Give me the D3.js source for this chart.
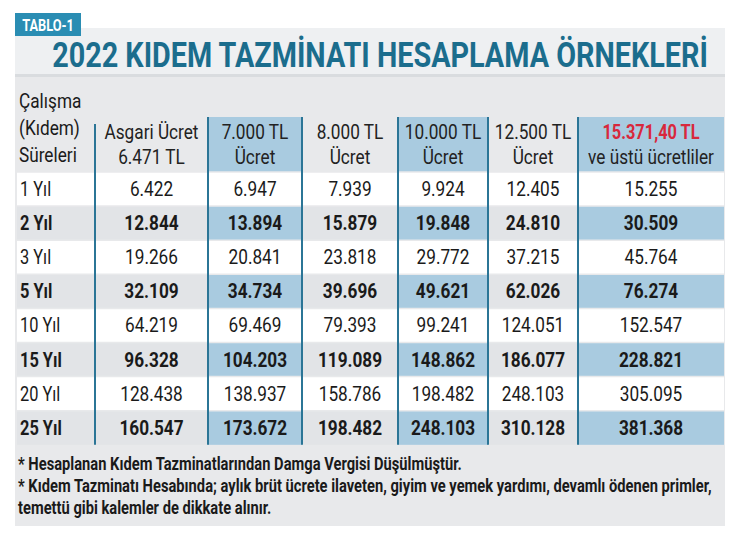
<!DOCTYPE html>
<html><head><meta charset="utf-8">
<script src="https://cdn.jsdelivr.net/npm/d3@7"></script>
<style>
body{margin:0;background:#fff}
text{font-family:"Roboto","Liberation Sans",sans-serif}
</style></head><body>
<svg id="c" width="750" height="546"></svg>
<script>
var rowLabels = ["1 Yıl","2 Yıl","3 Yıl","5 Yıl","10 Yıl","15 Yıl","20 Yıl","25 Yıl"];
var headers = [["Asgari Ücret","6.471 TL"],["7.000 TL","Ücret"],["8.000 TL","Ücret"],["10.000 TL","Ücret"],["12.500 TL","Ücret"],["15.371,40 TL","ve üstü ücretliler"]];
var colAsgari = ["6.422","12.844","19.266","32.109","64.219","96.328","128.438","160.547"];
var col7000 = ["6.947","13.894","20.841","34.734","69.469","104.203","138.937","173.672"];
var col8000 = ["7.939","15.879","23.818","39.696","79.393","119.089","158.786","198.482"];
var col10000 = ["9.924","19.848","29.772","49.621","99.241","148.862","198.482","248.103"];
var col12500 = ["12.405","24.810","37.215","62.026","124.051","186.077","248.103","310.128"];
var col15371 = ["15.255","30.509","45.764","76.274","152.547","228.821","305.095","381.368"];
var columns = [colAsgari, col7000, col8000, col10000, col12500, col15371];
var highlighted = [1, 3, 5];
var notes = ["* Hesaplanan Kıdem Tazminatlarından Damga Vergisi Düşülmüştür.",
  "* Kıdem Tazminatı Hesabında; aylık brüt ücrete ilaveten, giyim ve yemek yardımı, devamlı ödenen primler,",
  "temettü gibi kalemler de dikkate alınır."];

var svg = d3.select("#c");
var edges = [17, 95, 208, 302, 398, 488, 578, 724];
var tableTop = 172, rowH = 34.1;
var y = d3.scaleBand().domain(rowLabels).range([tableTop, tableTop + rowH * rowLabels.length]);

// condensed text helper
function ctext(x, yy, str, size, opts) {
  opts = opts || {};
  return svg.append("text")
    .attr("transform", "translate(" + x + "," + yy + ") scale(" + (opts.sx || 0.82) + ",1)")
    .attr("text-anchor", opts.anchor || "start")
    .attr("font-size", size)
    .attr("font-weight", opts.bold ? "bold" : null)
    .attr("fill", opts.fill || "#1a1a1a")
    .text(str);
}

// card
svg.append("rect").attr("x", 15).attr("y", 28).attr("width", 710).attr("height", 498).attr("fill", "#e8e9eb");
svg.append("rect").attr("x", 15).attr("y", 28).attr("width", 710).attr("height", 48).attr("fill", "#eef0f2");
svg.append("rect").attr("x", 15).attr("y", 74).attr("width", 710).attr("height", 3).attr("fill", "#d9dcdf");
svg.append("rect").attr("x", 15).attr("y", 13).attr("width", 66).attr("height", 23).attr("fill", "#2a8db3");
ctext(48, 31, "TABLO-1", 16, {anchor: "middle", bold: true, fill: "#fff", sx: 0.8});
ctext(380, 67, "2022 KIDEM TAZMİNATI HESAPLAMA ÖRNEKLERİ", 36, {anchor: "middle", bold: true, fill: "#1b6d8d", sx: 0.8});

// row backgrounds
rowLabels.forEach(function (r, i) {
  svg.append("rect").attr("x", edges[0]).attr("y", y(r)).attr("width", edges[7] - edges[0]).attr("height", y.bandwidth())
    .attr("fill", i % 2 ? "#e2e4e7" : "#fff");
  if (i % 2) highlighted.forEach(function (c) {
    svg.append("rect").attr("x", edges[c + 1]).attr("y", y(r)).attr("width", edges[c + 2] - edges[c + 1]).attr("height", y.bandwidth())
      .attr("fill", "#a9cbe0");
  });
});
// header highlight
highlighted.forEach(function (c) {
  svg.append("rect").attr("x", edges[c + 1]).attr("y", 117).attr("width", edges[c + 2] - edges[c + 1]).attr("height", tableTop - 117)
    .attr("fill", "#a9cbe0");
});
// separators
rowLabels.forEach(function (r) {
  svg.append("line").attr("x1", edges[0]).attr("x2", edges[7]).attr("y1", y(r)).attr("y2", y(r)).attr("stroke", "#e8e9eb").attr("stroke-width", 1.5);
});
edges.slice(1, 7).forEach(function (e, i) {
  svg.append("line").attr("x1", e).attr("x2", e).attr("y1", i === 0 ? 124 : 117).attr("y2", y.range()[1])
    .attr("stroke", "#2b7596").attr("stroke-width", 2);
});

// headers
["Çalışma", "(Kıdem)", "Süreleri"].forEach(function (t, i) {
  ctext(19, 108 + i * 27, t, 21);
});
headers.forEach(function (h, c) {
  var cx = (edges[c + 1] + edges[c + 2]) / 2;
  ctext(cx, 139, h[0], c === 5 ? 20 : 21, {anchor: "middle", bold: c === 5, fill: c === 5 ? "#d8283c" : "#222"});
  ctext(cx, 164, h[1], 21, {anchor: "middle", fill: "#222"});
});

// body
rowLabels.forEach(function (r, i) {
  var bold = i % 2 === 1;
  var ty = y(r) + y.bandwidth() / 2 + 7;
  ctext(20, ty, r, 20, {bold: bold});
  columns.forEach(function (col, c) {
    ctext((edges[c + 1] + edges[c + 2]) / 2, ty, col[i], 21, {anchor: "middle", bold: bold});
  });
});

notes.forEach(function (t, i) {
  ctext(18, 470 + i * 22, t, 17.5, {bold: true, sx: 0.84});
});
</script></body></html>
